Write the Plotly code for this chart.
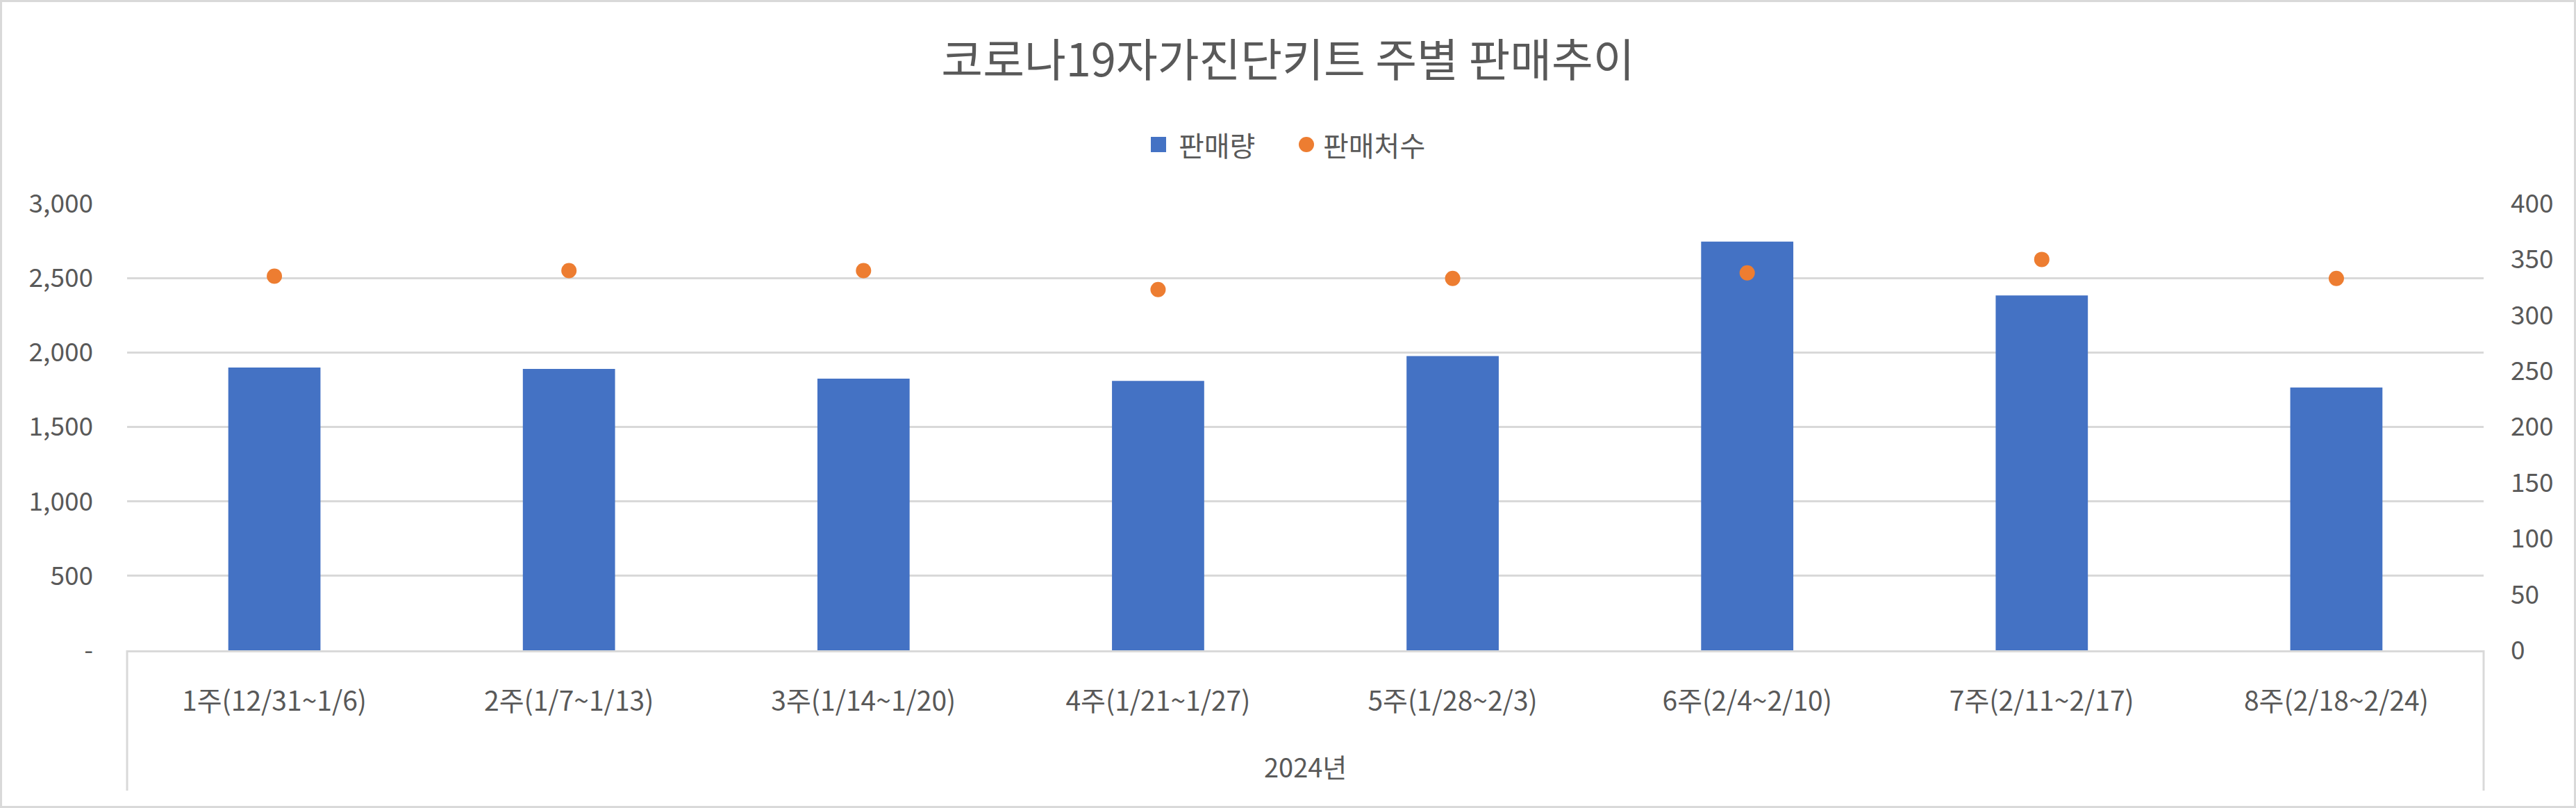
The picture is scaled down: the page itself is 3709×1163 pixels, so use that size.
import plotly.graph_objects as go

# ---- data ----
categories = ["1주(12/31~1/6)", "2주(1/7~1/13)", "3주(1/14~1/20)", "4주(1/21~1/27)",
              "5주(1/28~2/3)", "6주(2/4~2/10)", "7주(2/11~2/17)", "8주(2/18~2/24)"]
group_label = "2024년"
sales = [1899, 1889, 1824, 1809, 1976, 2744, 2383, 1765]        # 판매량
stores = [335, 340, 340, 323, 333, 338, 350, 333]               # 판매처수
left_ticks = [0, 500, 1000, 1500, 2000, 2500, 3000]
left_ticktext = ["-", "500", "1,000", "1,500", "2,000", "2,500", "3,000"]
right_ticks = [0, 50, 100, 150, 200, 250, 300, 350, 400]
series_names = ["판매량", "판매처수"]
series_colors = ["#4472C4", "#ED7D31"]

# ---- layout geometry ----
W, H = 3709, 1163
ML, MR, MT, MB = 183, 133, 293, 227
PW, PH = W - ML - MR, H - MT - MB

def px_x(x):
    return (x - ML) / PW

def px_y(y):
    return (H - MB - y) / PH

FONT = "Noto Sans CJK KR"
GRAY = "#595959"
LINE = "#d9d9d9"

fig = go.Figure()
fig.add_trace(go.Bar(x=categories, y=sales, name=series_names[0], showlegend=False,
                     marker=dict(color=series_colors[0], line=dict(width=0)), yaxis="y"))
fig.add_trace(go.Scatter(x=categories, y=stores, name=series_names[1], mode="markers",
                         showlegend=False,
                         marker=dict(color=series_colors[1], size=22), yaxis="y2"))

fig.update_layout(
    width=W, height=H,
    margin=dict(l=ML, r=MR, t=MT, b=MB, pad=0),
    paper_bgcolor="white", plot_bgcolor="white",
    font=dict(family=FONT, color=GRAY, size=37),
    bargap=0.687,
    title=dict(text="코로나19자가진단키트 주별 판매추이", x=0.5, xanchor="center",
               y=1 - 87 / H, yanchor="middle", xref="container", yref="container",
               font=dict(family=FONT, size=65, color=GRAY)),
    showlegend=False,
    xaxis=dict(type="category", showgrid=False, showline=True, linecolor=LINE, linewidth=3,
               ticks="", ticklabelstandoff=37, tickfont=dict(size=39, color=GRAY),
               zeroline=False, fixedrange=True),
    yaxis=dict(range=[0, 3000], tickvals=left_ticks, ticktext=left_ticktext,
               showgrid=True, gridcolor=LINE, gridwidth=2.5, zeroline=False,
               showline=False, ticks="", ticklabelstandoff=48,
               tickfont=dict(size=37, color=GRAY)),
    yaxis2=dict(range=[0, 400], tickvals=right_ticks, overlaying="y", side="right",
                showgrid=False, zeroline=False, showline=False, ticks="",
                ticklabelstandoff=38, tickfont=dict(size=37, color=GRAY)),
)

# ---- legend (drawn to match the larger Excel-style legend symbols) ----
leg_y = 208
# square symbol for 판매량
fig.add_shape(type="rect", xref="paper", yref="paper",
              x0=px_x(1657), x1=px_x(1679), y0=px_y(leg_y + 11), y1=px_y(leg_y - 11),
              fillcolor=series_colors[0], line=dict(width=0))
fig.add_annotation(text=series_names[0], xref="paper", yref="paper", x=px_x(1695), y=px_y(leg_y),
                   xanchor="left", yanchor="middle", showarrow=False,
                   font=dict(family=FONT, size=40, color=GRAY))
# circle symbol for 판매처수
fig.add_shape(type="circle", xref="paper", yref="paper",
              x0=px_x(1870), x1=px_x(1892), y0=px_y(leg_y + 11), y1=px_y(leg_y - 11),
              fillcolor=series_colors[1], line=dict(width=0))
fig.add_annotation(text=series_names[1], xref="paper", yref="paper", x=px_x(1903), y=px_y(leg_y),
                   xanchor="left", yanchor="middle", showarrow=False,
                   font=dict(family=FONT, size=40, color=GRAY))

# group label for the multi-level category axis
fig.add_annotation(text=group_label, xref="paper", yref="paper", x=0.5, y=px_y(1102),
                   xanchor="center", yanchor="middle", showarrow=False,
                   font=dict(family=FONT, size=38, color=GRAY))

# category group divider lines at the ends of the axis
for xp in (0, 1):
    fig.add_shape(type="line", xref="paper", yref="paper", x0=xp, x1=xp,
                  y0=0, y1=px_y(1138), line=dict(color=LINE, width=3))

# outer chart border
fig.add_shape(type="rect", xref="paper", yref="paper",
              x0=px_x(1.5), x1=px_x(W - 1.5), y0=px_y(H - 1.5), y1=px_y(1.5),
              line=dict(color=LINE, width=3), fillcolor="rgba(0,0,0,0)", layer="below")

fig.write_html("out.html")
